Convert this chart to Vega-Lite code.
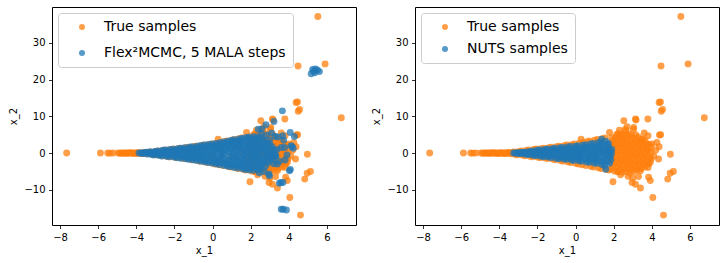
{
"$schema": "https://vega.github.io/schema/vega-lite/v6.json",
"padding": {"left": 8, "top": 6, "right": 4, "bottom": 2},
"spacing": 14,
"config": {
 "font": "DejaVu Sans",
 "view": {"stroke": "#000000", "strokeWidth": 1},
 "axis": {"grid": false, "domain": false, "ticks": true, "tickSize": 3.5, "tickColor": "#000000", "tickWidth": 0.8, "labelFontSize": 10, "labelColor": "#000000", "labelPadding": 3.5, "titleFontSize": 10, "titleFontWeight": "normal", "titleColor": "#000000", "labelFont": "DejaVu Sans", "titleFont": "DejaVu Sans"},
 "axisX": {"titlePadding": 3},
 "axisY": {"titlePadding": 5},
 "point": {"filled": true, "opacity": 0.75, "size": 48, "strokeWidth": 0}
},
"datasets": {
"truth": [
{"x":-7.65,"y":0.0},{"x":-5.88,"y":0.01},{"x":-5.5,"y":0.0},{"x":-5.38,"y":-0.02},{"x":-5.22,"y":0.02},{"x":-4.95,"y":0.0},{"x":-4.86,"y":-0.03},{"x":-4.79,"y":0.04},{"x":-4.72,"y":-0.02},{"x":-4.65,"y":0.05},{"x":-4.58,"y":-0.05},{"x":-4.52,"y":0.03},{"x":-4.45,"y":-0.06},{"x":-4.38,"y":0.07},{"x":-4.31,"y":-0.02},{"x":-4.25,"y":0.08},{"x":-4.18,"y":-0.08},{"x":-4.12,"y":0.02},{"x":-4.05,"y":-0.1},{"x":-3.98,"y":0.09},{"x":-3.92,"y":-0.04},{"x":-3.85,"y":0.12},{"x":-3.78,"y":-0.12},{"x":-3.72,"y":0.05},{"x":-3.65,"y":-0.15},{"x":-3.58,"y":0.15},{"x":-3.52,"y":-0.05},{"x":-3.45,"y":0.18},{"x":-3.38,"y":-0.2},{"x":-3.3,"y":0.08},
{"x":-3.24,"y":0.3},{"x":-3.18,"y":-0.35},{"x":-3.06,"y":-0.5},{"x":-3.0,"y":0.4},{"x":-2.86,"y":0.6},{"x":-2.8,"y":-0.55},{"x":-2.66,"y":-0.75},{"x":-2.6,"y":0.7},{"x":-2.46,"y":0.85},{"x":-2.4,"y":-0.9},{"x":-2.26,"y":-1.0},{"x":-2.2,"y":0.95},{"x":-2.06,"y":1.1},{"x":-2.0,"y":-1.1},{"x":-1.86,"y":-1.25},{"x":-1.8,"y":1.2},{"x":-1.66,"y":1.35},{"x":-1.6,"y":-1.35},{"x":-1.46,"y":-1.5},{"x":-1.4,"y":1.45},{"x":-1.26,"y":1.6},{"x":-1.2,"y":-1.65},{"x":-1.06,"y":-1.8},{"x":-1.0,"y":1.7},{"x":-0.86,"y":1.9},{"x":-0.8,"y":-2.0},{"x":-0.66,"y":-2.2},{"x":-0.6,"y":2.0},{"x":-0.46,"y":2.2},{"x":-0.4,"y":-2.4},{"x":-0.26,"y":-2.6},{"x":-0.2,"y":2.3},{"x":-0.06,"y":2.5},{"x":0.0,"y":-2.8},{"x":0.14,"y":-3.0},{"x":0.2,"y":2.7},{"x":0.29,"y":3.8},{"x":0.34,"y":-3.2},{"x":0.4,"y":2.9},{"x":0.54,"y":-3.4},{"x":0.6,"y":3.1},{"x":0.74,"y":3.3},{"x":0.8,"y":-3.6},{"x":0.94,"y":-3.8},{"x":1.0,"y":3.5},{"x":1.14,"y":3.7},{"x":1.2,"y":-4.0},{"x":1.34,"y":-4.2},{"x":1.4,"y":3.9},{"x":1.54,"y":4.1},{"x":1.6,"y":-4.4},{"x":1.74,"y":-4.6},{"x":1.78,"y":5.6},
{"x":-2.0,"y":0.1},{"x":-1.0,"y":0.2},{"x":0.0,"y":-0.5},{"x":0.5,"y":0.8},{"x":1.0,"y":-1.0},{"x":1.5,"y":0.5},{"x":-3.0,"y":0.0},{"x":-1.5,"y":-0.4},{"x":-0.5,"y":0.5},{"x":1.2,"y":1.5},
{"x":1.84,"y":-4.4},{"x":1.88,"y":-2.6},{"x":1.83,"y":-0.9},{"x":1.87,"y":0.8},{"x":1.85,"y":2.5},{"x":1.89,"y":4.2},
{"x":2.04,"y":-4.9},{"x":2.08,"y":-3.0},{"x":2.02,"y":-1.2},{"x":2.07,"y":0.6},{"x":2.05,"y":2.4},{"x":2.09,"y":4.2},
{"x":2.24,"y":-5.0},{"x":2.28,"y":-3.2},{"x":2.22,"y":-1.4},{"x":2.27,"y":0.4},{"x":2.25,"y":2.2},{"x":2.29,"y":4.0},{"x":2.23,"y":5.3},
{"x":2.44,"y":-5.2},{"x":2.48,"y":-3.4},{"x":2.42,"y":-1.6},{"x":2.47,"y":0.2},{"x":2.45,"y":2.0},{"x":2.49,"y":3.8},{"x":2.43,"y":5.2},
{"x":2.64,"y":-5.0},{"x":2.68,"y":-3.2},{"x":2.62,"y":-1.4},{"x":2.67,"y":0.4},{"x":2.65,"y":2.2},{"x":2.69,"y":4.0},{"x":2.63,"y":6.0},
{"x":2.84,"y":-5.4},{"x":2.88,"y":-3.6},{"x":2.82,"y":-1.8},{"x":2.87,"y":0.0},{"x":2.85,"y":1.8},{"x":2.89,"y":3.6},{"x":2.83,"y":5.2},
{"x":3.04,"y":-5.0},{"x":3.08,"y":-3.2},{"x":3.02,"y":-1.4},{"x":3.07,"y":0.4},{"x":3.05,"y":2.2},{"x":3.09,"y":4.0},{"x":3.03,"y":6.4},
{"x":3.24,"y":-4.6},{"x":3.28,"y":-2.8},{"x":3.22,"y":-1.0},{"x":3.27,"y":0.8},{"x":3.25,"y":2.6},{"x":3.29,"y":4.4},
{"x":3.44,"y":-4.2},{"x":3.48,"y":-2.4},{"x":3.42,"y":-0.6},{"x":3.47,"y":1.2},{"x":3.45,"y":3.0},
{"x":3.64,"y":-3.8},{"x":3.68,"y":-2.0},{"x":3.62,"y":-0.2},{"x":3.67,"y":1.6},{"x":3.65,"y":3.2},
{"x":3.84,"y":-3.0},{"x":3.88,"y":-1.2},{"x":3.82,"y":0.6},{"x":3.87,"y":2.2},
{"x":1.95,"y":-3.5},{"x":1.95,"y":-1.7},{"x":1.95,"y":0.0},{"x":1.95,"y":1.7},{"x":1.95,"y":3.3},
{"x":2.15,"y":-4.0},{"x":2.15,"y":-2.1},{"x":2.15,"y":-0.3},{"x":2.15,"y":1.5},{"x":2.15,"y":3.3},{"x":2.15,"y":5.0},
{"x":2.35,"y":-4.2},{"x":2.35,"y":-2.3},{"x":2.35,"y":-0.5},{"x":2.35,"y":1.3},{"x":2.35,"y":3.1},{"x":2.35,"y":4.7},
{"x":2.55,"y":-4.2},{"x":2.55,"y":-2.3},{"x":2.55,"y":-0.5},{"x":2.55,"y":1.3},{"x":2.55,"y":3.1},{"x":2.55,"y":4.8},
{"x":2.75,"y":-4.4},{"x":2.75,"y":-2.5},{"x":2.75,"y":-0.7},{"x":2.75,"y":1.1},{"x":2.75,"y":2.9},{"x":2.75,"y":4.8},
{"x":2.95,"y":-4.5},{"x":2.95,"y":-2.7},{"x":2.95,"y":-0.9},{"x":2.95,"y":0.9},{"x":2.95,"y":2.7},{"x":2.95,"y":4.6},
{"x":3.15,"y":-4.0},{"x":3.15,"y":-2.3},{"x":3.15,"y":-0.5},{"x":3.15,"y":1.3},{"x":3.15,"y":3.1},{"x":3.15,"y":5.0},
{"x":3.35,"y":-3.7},{"x":3.35,"y":-1.9},{"x":3.35,"y":-0.1},{"x":3.35,"y":1.7},{"x":3.35,"y":3.5},
{"x":3.55,"y":-3.2},{"x":3.55,"y":-1.4},{"x":3.55,"y":0.4},{"x":3.55,"y":2.1},{"x":3.55,"y":3.8},
{"x":3.75,"y":-2.8},{"x":3.75,"y":-1.0},{"x":3.75,"y":0.9},{"x":3.75,"y":2.5},
{"x":3.95,"y":-1.6},{"x":3.95,"y":0.2},{"x":3.95,"y":1.6},
{"x":1.96,"y":-7.8},{"x":2.36,"y":-5.9},{"x":2.53,"y":8.8},{"x":2.7,"y":7.2},{"x":3.05,"y":7.0},{"x":3.14,"y":9.3},{"x":3.17,"y":9.0},{"x":3.79,"y":9.3},{"x":3.8,"y":4.7},{"x":3.48,"y":3.8},{"x":4.0,"y":2.45},{"x":4.26,"y":2.9},{"x":4.38,"y":1.7},{"x":4.4,"y":4.9},{"x":4.46,"y":5.0},{"x":4.38,"y":13.8},{"x":4.45,"y":13.9},{"x":4.49,"y":11.4},{"x":4.56,"y":11.9},{"x":4.48,"y":23.7},{"x":5.52,"y":37.2},{"x":5.9,"y":24.3},{"x":6.75,"y":9.6},{"x":4.97,"y":-0.3},{"x":4.35,"y":-1.6},{"x":3.92,"y":-2.5},{"x":3.8,"y":-3.9},{"x":3.4,"y":-4.8},{"x":4.96,"y":-5.5},{"x":5.13,"y":-5.0},{"x":4.83,"y":-7.1},{"x":3.83,"y":-6.6},{"x":3.92,"y":-7.5},{"x":2.96,"y":-8.0},{"x":3.14,"y":-8.5},{"x":3.4,"y":-9.5},{"x":4.05,"y":-12.1},{"x":4.61,"y":-16.9},{"x":2.2,"y":-5.1},{"x":3.3,"y":-6.4},{"x":2.6,"y":6.4},{"x":2.3,"y":6.2},{"x":4.1,"y":-0.8},{"x":4.2,"y":0.8},{"x":3.6,"y":5.5},{"x":3.0,"y":-6.8},{"x":2.75,"y":-6.3}
],
"flex": [
{"x":-3.86,"y":0.02},{"x":-3.66,"y":-0.1},{"x":-3.62,"y":0.12},{"x":-3.47,"y":0.2},{"x":-3.42,"y":-0.25},{"x":-3.28,"y":0.35},{"x":-3.22,"y":-0.3},{"x":-3.08,"y":-0.5},{"x":-3.02,"y":0.45},{"x":-3.05,"y":0.0},{"x":-2.88,"y":0.6},{"x":-2.83,"y":-0.6},{"x":-2.68,"y":-0.2},{"x":-2.62,"y":0.75},{"x":-2.66,"y":-0.8},{"x":-2.48,"y":0.85},{"x":-2.42,"y":-0.9},{"x":-2.45,"y":0.1},{"x":-2.28,"y":-0.4},{"x":-2.23,"y":1.0},{"x":-2.26,"y":-1.0},{"x":-2.08,"y":0.3},{"x":-2.02,"y":-1.1},{"x":-2.05,"y":1.05},
{"x":-1.88,"y":-0.5},{"x":-1.83,"y":1.2},{"x":-1.86,"y":-1.3},{"x":-1.82,"y":0.4},{"x":-1.68,"y":1.3},{"x":-1.62,"y":-0.1},{"x":-1.66,"y":-1.4},{"x":-1.48,"y":0.6},{"x":-1.43,"y":-0.9},{"x":-1.46,"y":1.45},{"x":-1.42,"y":-1.55},{"x":-1.28,"y":-0.2},{"x":-1.22,"y":1.6},{"x":-1.26,"y":-1.7},{"x":-1.23,"y":0.8},{"x":-1.08,"y":1.75},{"x":-1.02,"y":-0.9},{"x":-1.06,"y":-1.85},{"x":-1.03,"y":0.4},
{"x":-0.88,"y":-0.3},{"x":-0.82,"y":1.9},{"x":-0.86,"y":-2.0},{"x":-0.83,"y":1.0},{"x":-0.68,"y":-1.3},{"x":-0.62,"y":2.05},{"x":-0.66,"y":0.3},{"x":-0.63,"y":-2.2},{"x":-0.48,"y":1.2},{"x":-0.42,"y":-2.35},{"x":-0.46,"y":-0.6},{"x":-0.43,"y":2.2},{"x":-0.28,"y":-1.5},{"x":-0.22,"y":2.35},{"x":-0.26,"y":0.6},{"x":-0.23,"y":-2.6},{"x":-0.08,"y":1.6},{"x":-0.02,"y":-2.7},{"x":-0.06,"y":-0.4},{"x":-0.03,"y":2.5},
{"x":0.12,"y":-1.8},{"x":0.18,"y":2.65},{"x":0.14,"y":0.5},{"x":0.17,"y":-2.9},{"x":0.15,"y":1.5},{"x":0.32,"y":-0.7},{"x":0.38,"y":2.85},{"x":0.34,"y":-3.1},{"x":0.37,"y":1.0},{"x":0.35,"y":-2.0},{"x":0.52,"y":2.0},{"x":0.58,"y":-3.3},{"x":0.54,"y":-0.1},{"x":0.57,"y":3.05},{"x":0.55,"y":-1.6},{"x":0.72,"y":-2.6},{"x":0.78,"y":3.25},{"x":0.74,"y":0.8},{"x":0.77,"y":-3.5},{"x":0.75,"y":2.0},{"x":0.92,"y":-0.9},{"x":0.98,"y":3.45},{"x":0.94,"y":-3.7},{"x":0.97,"y":1.4},{"x":0.95,"y":-2.2},
{"x":1.12,"y":3.65},{"x":1.18,"y":-1.5},{"x":1.14,"y":-3.9},{"x":1.17,"y":0.4},{"x":1.15,"y":2.2},{"x":1.13,"y":-2.8},{"x":1.32,"y":-0.6},{"x":1.38,"y":3.85},{"x":1.34,"y":-4.1},{"x":1.37,"y":1.5},{"x":1.35,"y":-2.4},{"x":1.36,"y":2.8},{"x":1.52,"y":2.5},{"x":1.58,"y":-4.3},{"x":1.54,"y":0.2},{"x":1.57,"y":4.05},{"x":1.55,"y":-1.8},{"x":1.53,"y":-3.2},{"x":1.72,"y":-0.8},{"x":1.78,"y":4.25},{"x":1.74,"y":-4.5},{"x":1.77,"y":1.2},{"x":1.75,"y":2.8},{"x":1.73,"y":-2.7},
{"x":1.92,"y":4.4},{"x":1.98,"y":-1.9},{"x":1.94,"y":-4.6},{"x":1.97,"y":0.3},{"x":1.95,"y":2.9},{"x":1.93,"y":-3.3},{"x":1.96,"y":1.6},{"x":2.12,"y":-0.6},{"x":2.18,"y":4.5},{"x":2.14,"y":-4.7},{"x":2.17,"y":2.0},{"x":2.15,"y":-2.6},{"x":2.13,"y":3.4},{"x":2.16,"y":0.8},{"x":2.32,"y":3.0},{"x":2.38,"y":-4.6},{"x":2.34,"y":-1.2},{"x":2.37,"y":4.4},{"x":2.35,"y":1.0},{"x":2.33,"y":-3.0},{"x":2.36,"y":-0.1},
{"x":2.52,"y":-2.0},{"x":2.58,"y":4.1},{"x":2.54,"y":-4.2},{"x":2.57,"y":1.8},{"x":2.55,"y":0.0},{"x":2.53,"y":-3.2},{"x":2.72,"y":3.4},{"x":2.78,"y":-3.6},{"x":2.74,"y":0.6},{"x":2.77,"y":-1.5},{"x":2.75,"y":2.0},{"x":2.92,"y":-2.6},{"x":2.98,"y":2.6},{"x":2.94,"y":0.0},{"x":2.97,"y":-1.0},{"x":3.12,"y":1.8},{"x":3.18,"y":-1.8},{"x":3.14,"y":0.2},{"x":3.32,"y":-0.9},{"x":3.38,"y":1.0},
{"x":-3.75,"y":0.0},{"x":-3.55,"y":0.05},{"x":-3.35,"y":0.0},{"x":-3.15,"y":0.15},{"x":-3.15,"y":-0.2},{"x":-2.95,"y":0.25},{"x":-2.95,"y":-0.3},{"x":-2.75,"y":0.3},{"x":-2.75,"y":-0.35},{"x":-2.55,"y":0.45},{"x":-2.55,"y":-0.4},{"x":-2.35,"y":0.5},{"x":-2.35,"y":-0.55},{"x":-2.35,"y":0.0},{"x":-2.15,"y":0.6},{"x":-2.15,"y":-0.5},{"x":-2.15,"y":0.0},{"x":-1.95,"y":-0.8},{"x":-1.95,"y":0.7},{"x":-1.95,"y":0.0},{"x":-1.75,"y":0.85},{"x":-1.75,"y":-0.9},{"x":-1.75,"y":-0.1},{"x":-1.55,"y":1.0},{"x":-1.55,"y":-1.0},{"x":-1.55,"y":0.2},{"x":-1.35,"y":1.1},{"x":-1.35,"y":-1.1},{"x":-1.35,"y":0.0},{"x":-1.15,"y":1.2},{"x":-1.15,"y":-1.3},{"x":-1.15,"y":0.0},{"x":-0.95,"y":1.3},{"x":-0.95,"y":-1.4},{"x":-0.95,"y":0.0},
{"x":-0.75,"y":1.5},{"x":-0.75,"y":-1.6},{"x":-0.75,"y":0.1},{"x":-0.75,"y":-0.7},{"x":-0.55,"y":1.6},{"x":-0.55,"y":-1.8},{"x":-0.55,"y":0.5},{"x":-0.55,"y":-0.7},{"x":-0.35,"y":1.7},{"x":-0.35,"y":-2.0},{"x":-0.35,"y":0.3},{"x":-0.35,"y":-0.9},{"x":-0.15,"y":1.9},{"x":-0.15,"y":-2.1},{"x":-0.15,"y":0.7},{"x":-0.15,"y":-1.0},{"x":0.05,"y":2.0},{"x":0.05,"y":-2.3},{"x":0.05,"y":0.8},{"x":0.05,"y":-1.2},{"x":0.05,"y":0.0},{"x":0.25,"y":2.2},{"x":0.25,"y":-2.5},{"x":0.25,"y":1.0},{"x":0.25,"y":-1.2},
{"x":0.45,"y":2.4},{"x":0.45,"y":-2.6},{"x":0.45,"y":1.5},{"x":0.45,"y":-1.0},{"x":0.45,"y":0.2},{"x":0.65,"y":2.6},{"x":0.65,"y":-2.9},{"x":0.65,"y":1.2},{"x":0.65,"y":-1.5},{"x":0.65,"y":0.0},{"x":0.85,"y":2.8},{"x":0.85,"y":-3.0},{"x":0.85,"y":1.9},{"x":0.85,"y":-1.8},{"x":0.85,"y":0.3},{"x":1.05,"y":3.0},{"x":1.05,"y":-3.2},{"x":1.05,"y":1.0},{"x":1.05,"y":-1.2},{"x":1.05,"y":2.2},{"x":1.05,"y":-0.1},
{"x":1.25,"y":3.2},{"x":1.25,"y":-3.4},{"x":1.25,"y":1.8},{"x":1.25,"y":-1.9},{"x":1.25,"y":0.5},{"x":1.25,"y":-0.8},{"x":1.45,"y":3.4},{"x":1.45,"y":-3.6},{"x":1.45,"y":1.0},{"x":1.45,"y":-1.2},{"x":1.45,"y":2.2},{"x":1.45,"y":-2.5},{"x":1.65,"y":3.6},{"x":1.65,"y":-3.8},{"x":1.65,"y":2.0},{"x":1.65,"y":-2.0},{"x":1.65,"y":0.6},{"x":1.65,"y":-0.6},{"x":1.85,"y":3.8},{"x":1.85,"y":-4.0},{"x":1.85,"y":2.1},{"x":1.85,"y":-2.2},{"x":1.85,"y":0.8},{"x":1.85,"y":-0.7},
{"x":2.05,"y":3.9},{"x":2.05,"y":-4.1},{"x":2.05,"y":2.5},{"x":2.05,"y":-2.9},{"x":2.05,"y":0.8},{"x":2.05,"y":-0.8},{"x":2.05,"y":-1.6},{"x":2.25,"y":3.9},{"x":2.25,"y":-4.0},{"x":2.25,"y":2.6},{"x":2.25,"y":-2.1},{"x":2.25,"y":1.4},{"x":2.25,"y":-0.6},{"x":2.25,"y":0.3},{"x":2.45,"y":3.6},{"x":2.45,"y":-3.8},{"x":2.45,"y":2.3},{"x":2.45,"y":-2.5},{"x":2.45,"y":1.0},{"x":2.45,"y":-0.8},
{"x":2.65,"y":3.0},{"x":2.65,"y":-3.0},{"x":2.65,"y":1.1},{"x":2.65,"y":-1.0},{"x":2.65,"y":2.0},{"x":2.65,"y":-2.0},{"x":2.85,"y":2.4},{"x":2.85,"y":-2.2},{"x":2.85,"y":0.7},{"x":2.85,"y":-0.6},{"x":2.85,"y":1.5},{"x":3.05,"y":1.4},{"x":3.05,"y":-1.6},{"x":3.05,"y":0.0},{"x":3.25,"y":0.8},{"x":3.25,"y":-0.7},
{"x":2.58,"y":6.6},{"x":2.39,"y":6.5},{"x":2.8,"y":7.7},{"x":3.22,"y":8.6},{"x":3.66,"y":11.5},{"x":2.56,"y":5.2},{"x":2.83,"y":4.9},{"x":3.28,"y":4.5},{"x":3.43,"y":4.4},{"x":3.68,"y":4.7},{"x":3.73,"y":3.5},{"x":4.07,"y":5.6},{"x":4.29,"y":4.5},{"x":4.16,"y":1.7},{"x":4.23,"y":1.3},{"x":4.12,"y":2.0},{"x":3.78,"y":1.5},{"x":3.9,"y":-0.5},{"x":3.6,"y":1.5},{"x":3.14,"y":-1.0},{"x":3.3,"y":-0.5},{"x":3.2,"y":-2.9},{"x":3.4,"y":-3.0},{"x":3.8,"y":-1.9},{"x":4.08,"y":-4.5},{"x":4.03,"y":-4.8},{"x":2.98,"y":-6.2},{"x":2.95,"y":-5.7},{"x":3.5,"y":-8.2},{"x":3.58,"y":-8.0},{"x":3.69,"y":-8.0},{"x":3.6,"y":-15.3},{"x":3.7,"y":-15.3},{"x":3.87,"y":-15.5},{"x":5.17,"y":21.6},{"x":5.25,"y":22.8},{"x":5.3,"y":22.3},{"x":5.4,"y":22.9},{"x":5.5,"y":22.6},{"x":5.6,"y":22.2},{"x":5.36,"y":21.9},{"x":2.45,"y":-5.4},{"x":2.7,"y":-5.0},{"x":3.0,"y":3.6},{"x":3.5,"y":-2.2},{"x":3.1,"y":5.5}
],
"nuts": [
{"x":-3.25,"y":0.0},{"x":-3.05,"y":0.08},{"x":-3.0,"y":-0.1},{"x":-2.86,"y":-0.15},{"x":-2.82,"y":0.2},{"x":-2.66,"y":0.25},{"x":-2.62,"y":-0.3},{"x":-2.46,"y":-0.4},{"x":-2.42,"y":0.45},{"x":-2.44,"y":0.0},{"x":-2.27,"y":0.55},{"x":-2.22,"y":-0.6},{"x":-2.07,"y":-0.7},{"x":-2.03,"y":0.75},{"x":-2.05,"y":0.1},{"x":-1.88,"y":0.9},{"x":-1.83,"y":-0.85},{"x":-1.86,"y":0.1},{"x":-1.68,"y":-1.0},{"x":-1.62,"y":1.0},{"x":-1.65,"y":-0.2},{"x":-1.48,"y":1.1},{"x":-1.43,"y":-1.1},{"x":-1.46,"y":0.3},{"x":-1.28,"y":-1.2},{"x":-1.22,"y":1.2},{"x":-1.26,"y":-0.2},{"x":-1.08,"y":1.3},{"x":-1.02,"y":-1.4},{"x":-1.05,"y":0.4},
{"x":-0.88,"y":-1.5},{"x":-0.82,"y":1.45},{"x":-0.86,"y":-0.3},{"x":-0.68,"y":1.55},{"x":-0.62,"y":-1.6},{"x":-0.66,"y":0.5},{"x":-0.63,"y":-0.6},{"x":-0.48,"y":-1.7},{"x":-0.42,"y":1.65},{"x":-0.46,"y":-0.3},{"x":-0.43,"y":0.7},{"x":-0.28,"y":1.8},{"x":-0.22,"y":-1.9},{"x":-0.26,"y":0.4},{"x":-0.23,"y":-0.8},{"x":-0.08,"y":-2.0},{"x":-0.02,"y":1.9},{"x":-0.06,"y":-0.5},{"x":-0.03,"y":0.7},
{"x":0.12,"y":2.0},{"x":0.18,"y":-2.1},{"x":0.14,"y":0.2},{"x":0.17,"y":-1.0},{"x":0.15,"y":1.1},{"x":0.32,"y":-2.2},{"x":0.38,"y":2.15},{"x":0.34,"y":-0.4},{"x":0.37,"y":0.9},{"x":0.52,"y":2.3},{"x":0.58,"y":-2.4},{"x":0.54,"y":0.6},{"x":0.57,"y":-1.1},{"x":0.55,"y":1.5},{"x":0.72,"y":-2.5},{"x":0.78,"y":2.45},{"x":0.74,"y":-0.6},{"x":0.77,"y":0.8},{"x":0.75,"y":-1.6},{"x":0.92,"y":2.6},{"x":0.98,"y":-2.7},{"x":0.94,"y":0.3},{"x":0.97,"y":-1.2},{"x":0.95,"y":1.4},
{"x":1.12,"y":-2.8},{"x":1.18,"y":2.8},{"x":1.14,"y":-0.4},{"x":1.17,"y":1.1},{"x":1.15,"y":-1.7},{"x":1.32,"y":3.0},{"x":1.38,"y":-3.1},{"x":1.34,"y":0.5},{"x":1.37,"y":-1.3},{"x":1.35,"y":1.8},{"x":1.36,"y":3.8},{"x":1.52,"y":-3.4},{"x":1.58,"y":3.2},{"x":1.54,"y":-0.5},{"x":1.57,"y":1.2},{"x":1.55,"y":-2.0},{"x":1.58,"y":-4.4},{"x":1.72,"y":2.6},{"x":1.78,"y":-2.8},{"x":1.74,"y":0.4},{"x":1.77,"y":-1.0},{"x":1.75,"y":1.5},{"x":1.88,"y":-0.2},{"x":1.9,"y":1.0},{"x":1.85,"y":-1.8},
{"x":-3.15,"y":0.0},{"x":-2.95,"y":0.05},{"x":-2.75,"y":0.1},{"x":-2.75,"y":-0.1},{"x":-2.55,"y":0.2},{"x":-2.55,"y":-0.2},{"x":-2.35,"y":0.25},{"x":-2.35,"y":-0.3},{"x":-2.15,"y":0.3},{"x":-2.15,"y":-0.25},{"x":-2.15,"y":0.0},{"x":-1.95,"y":0.45},{"x":-1.95,"y":-0.4},{"x":-1.75,"y":0.5},{"x":-1.75,"y":-0.5},{"x":-1.55,"y":0.6},{"x":-1.55,"y":-0.65},{"x":-1.55,"y":0.0},{"x":-1.35,"y":0.7},{"x":-1.35,"y":-0.7},{"x":-1.35,"y":0.0},{"x":-1.15,"y":0.8},{"x":-1.15,"y":-0.75},{"x":-1.15,"y":0.0},{"x":-0.95,"y":0.85},{"x":-0.95,"y":-0.9},{"x":-0.95,"y":0.0},
{"x":-0.75,"y":0.95},{"x":-0.75,"y":-1.0},{"x":-0.75,"y":0.0},{"x":-0.55,"y":1.05},{"x":-0.55,"y":-1.1},{"x":-0.55,"y":0.1},{"x":-0.35,"y":1.1},{"x":-0.35,"y":-1.2},{"x":-0.35,"y":0.0},{"x":-0.15,"y":1.2},{"x":-0.15,"y":-1.3},{"x":-0.15,"y":0.1},{"x":0.05,"y":1.3},{"x":0.05,"y":-1.4},{"x":0.05,"y":0.5},{"x":0.05,"y":-0.5},{"x":0.25,"y":1.4},{"x":0.25,"y":-1.5},{"x":0.25,"y":0.4},{"x":0.25,"y":-0.5},
{"x":0.45,"y":1.5},{"x":0.45,"y":-1.6},{"x":0.45,"y":0.0},{"x":0.65,"y":1.6},{"x":0.65,"y":-1.7},{"x":0.65,"y":0.0},{"x":0.85,"y":1.7},{"x":0.85,"y":-1.9},{"x":0.85,"y":0.0},{"x":0.85,"y":-0.9},{"x":1.05,"y":1.8},{"x":1.05,"y":-2.0},{"x":1.05,"y":0.6},{"x":1.05,"y":-0.7},{"x":1.25,"y":2.0},{"x":1.25,"y":-2.2},{"x":1.25,"y":0.0},{"x":1.25,"y":1.0},{"x":1.45,"y":2.3},{"x":1.45,"y":-2.5},{"x":1.45,"y":0.2},{"x":1.45,"y":-1.2},{"x":1.65,"y":2.2},{"x":1.65,"y":-2.4},{"x":1.65,"y":-0.4},{"x":1.65,"y":0.9},{"x":1.82,"y":0.5},{"x":1.8,"y":-0.9}
]
},
"resolve": {"scale": {"color": "independent"}, "legend": {"color": "independent"}},
"hconcat": [
{
 "width": 304, "height": 218,
 "encoding": {
  "x": {"field": "x", "type": "quantitative", "scale": {"domain": [-8.42, 7.52], "nice": false, "zero": false}, "axis": {"title": "x_1", "values": [-8,-6,-4,-2,0,2,4,6]}},
  "y": {"field": "y", "type": "quantitative", "scale": {"domain": [-19.6, 39.8], "nice": false, "zero": false}, "axis": {"title": "x_2", "values": [-10,0,10,20,30]}}
 },
 "layer": [
  {"data": {"name": "truth"}, "mark": {"type": "point"},
   "encoding": {"color": {"datum": "True samples", "type": "nominal",
     "scale": {"domain": ["True samples", "Flex²MCMC, 5 MALA steps"], "range": ["#ff7f0e", "#1f77b4"]},
     "legend": {"title": null, "orient": "top-left", "offset": 6, "labelFontSize": 14, "labelLimit": 400, "labelColor": "#000000", "symbolType": "circle", "symbolSize": 36, "symbolOpacity": 0.75, "symbolStrokeWidth": 0, "strokeColor": "#cccccc", "fillColor": "rgba(255,255,255,0.8)", "cornerRadius": 3, "padding": 7, "rowPadding": 12, "symbolOffset": 10, "labelOffset": 15}}}},
  {"data": {"name": "flex"}, "mark": {"type": "point"},
   "encoding": {"color": {"datum": "Flex²MCMC, 5 MALA steps", "type": "nominal"}}}
 ]
},
{
 "width": 304, "height": 218,
 "encoding": {
  "x": {"field": "x", "type": "quantitative", "scale": {"domain": [-8.42, 7.52], "nice": false, "zero": false}, "axis": {"title": "x_1", "values": [-8,-6,-4,-2,0,2,4,6]}},
  "y": {"field": "y", "type": "quantitative", "scale": {"domain": [-19.6, 39.8], "nice": false, "zero": false}, "axis": {"title": "x_2", "values": [-10,0,10,20,30]}}
 },
 "layer": [
  {"data": {"name": "truth"}, "mark": {"type": "point"},
   "encoding": {"color": {"datum": "True samples", "type": "nominal",
     "scale": {"domain": ["True samples", "NUTS samples"], "range": ["#ff7f0e", "#1f77b4"]},
     "legend": {"title": null, "orient": "top-left", "offset": 6, "labelFontSize": 14, "labelLimit": 400, "labelColor": "#000000", "symbolType": "circle", "symbolSize": 36, "symbolOpacity": 0.75, "symbolStrokeWidth": 0, "strokeColor": "#cccccc", "fillColor": "rgba(255,255,255,0.8)", "cornerRadius": 3, "padding": 7, "rowPadding": 8, "symbolOffset": 10, "labelOffset": 15}}}},
  {"data": {"name": "nuts"}, "mark": {"type": "point"},
   "encoding": {"color": {"datum": "NUTS samples", "type": "nominal"}}}
 ]
}
]
}
